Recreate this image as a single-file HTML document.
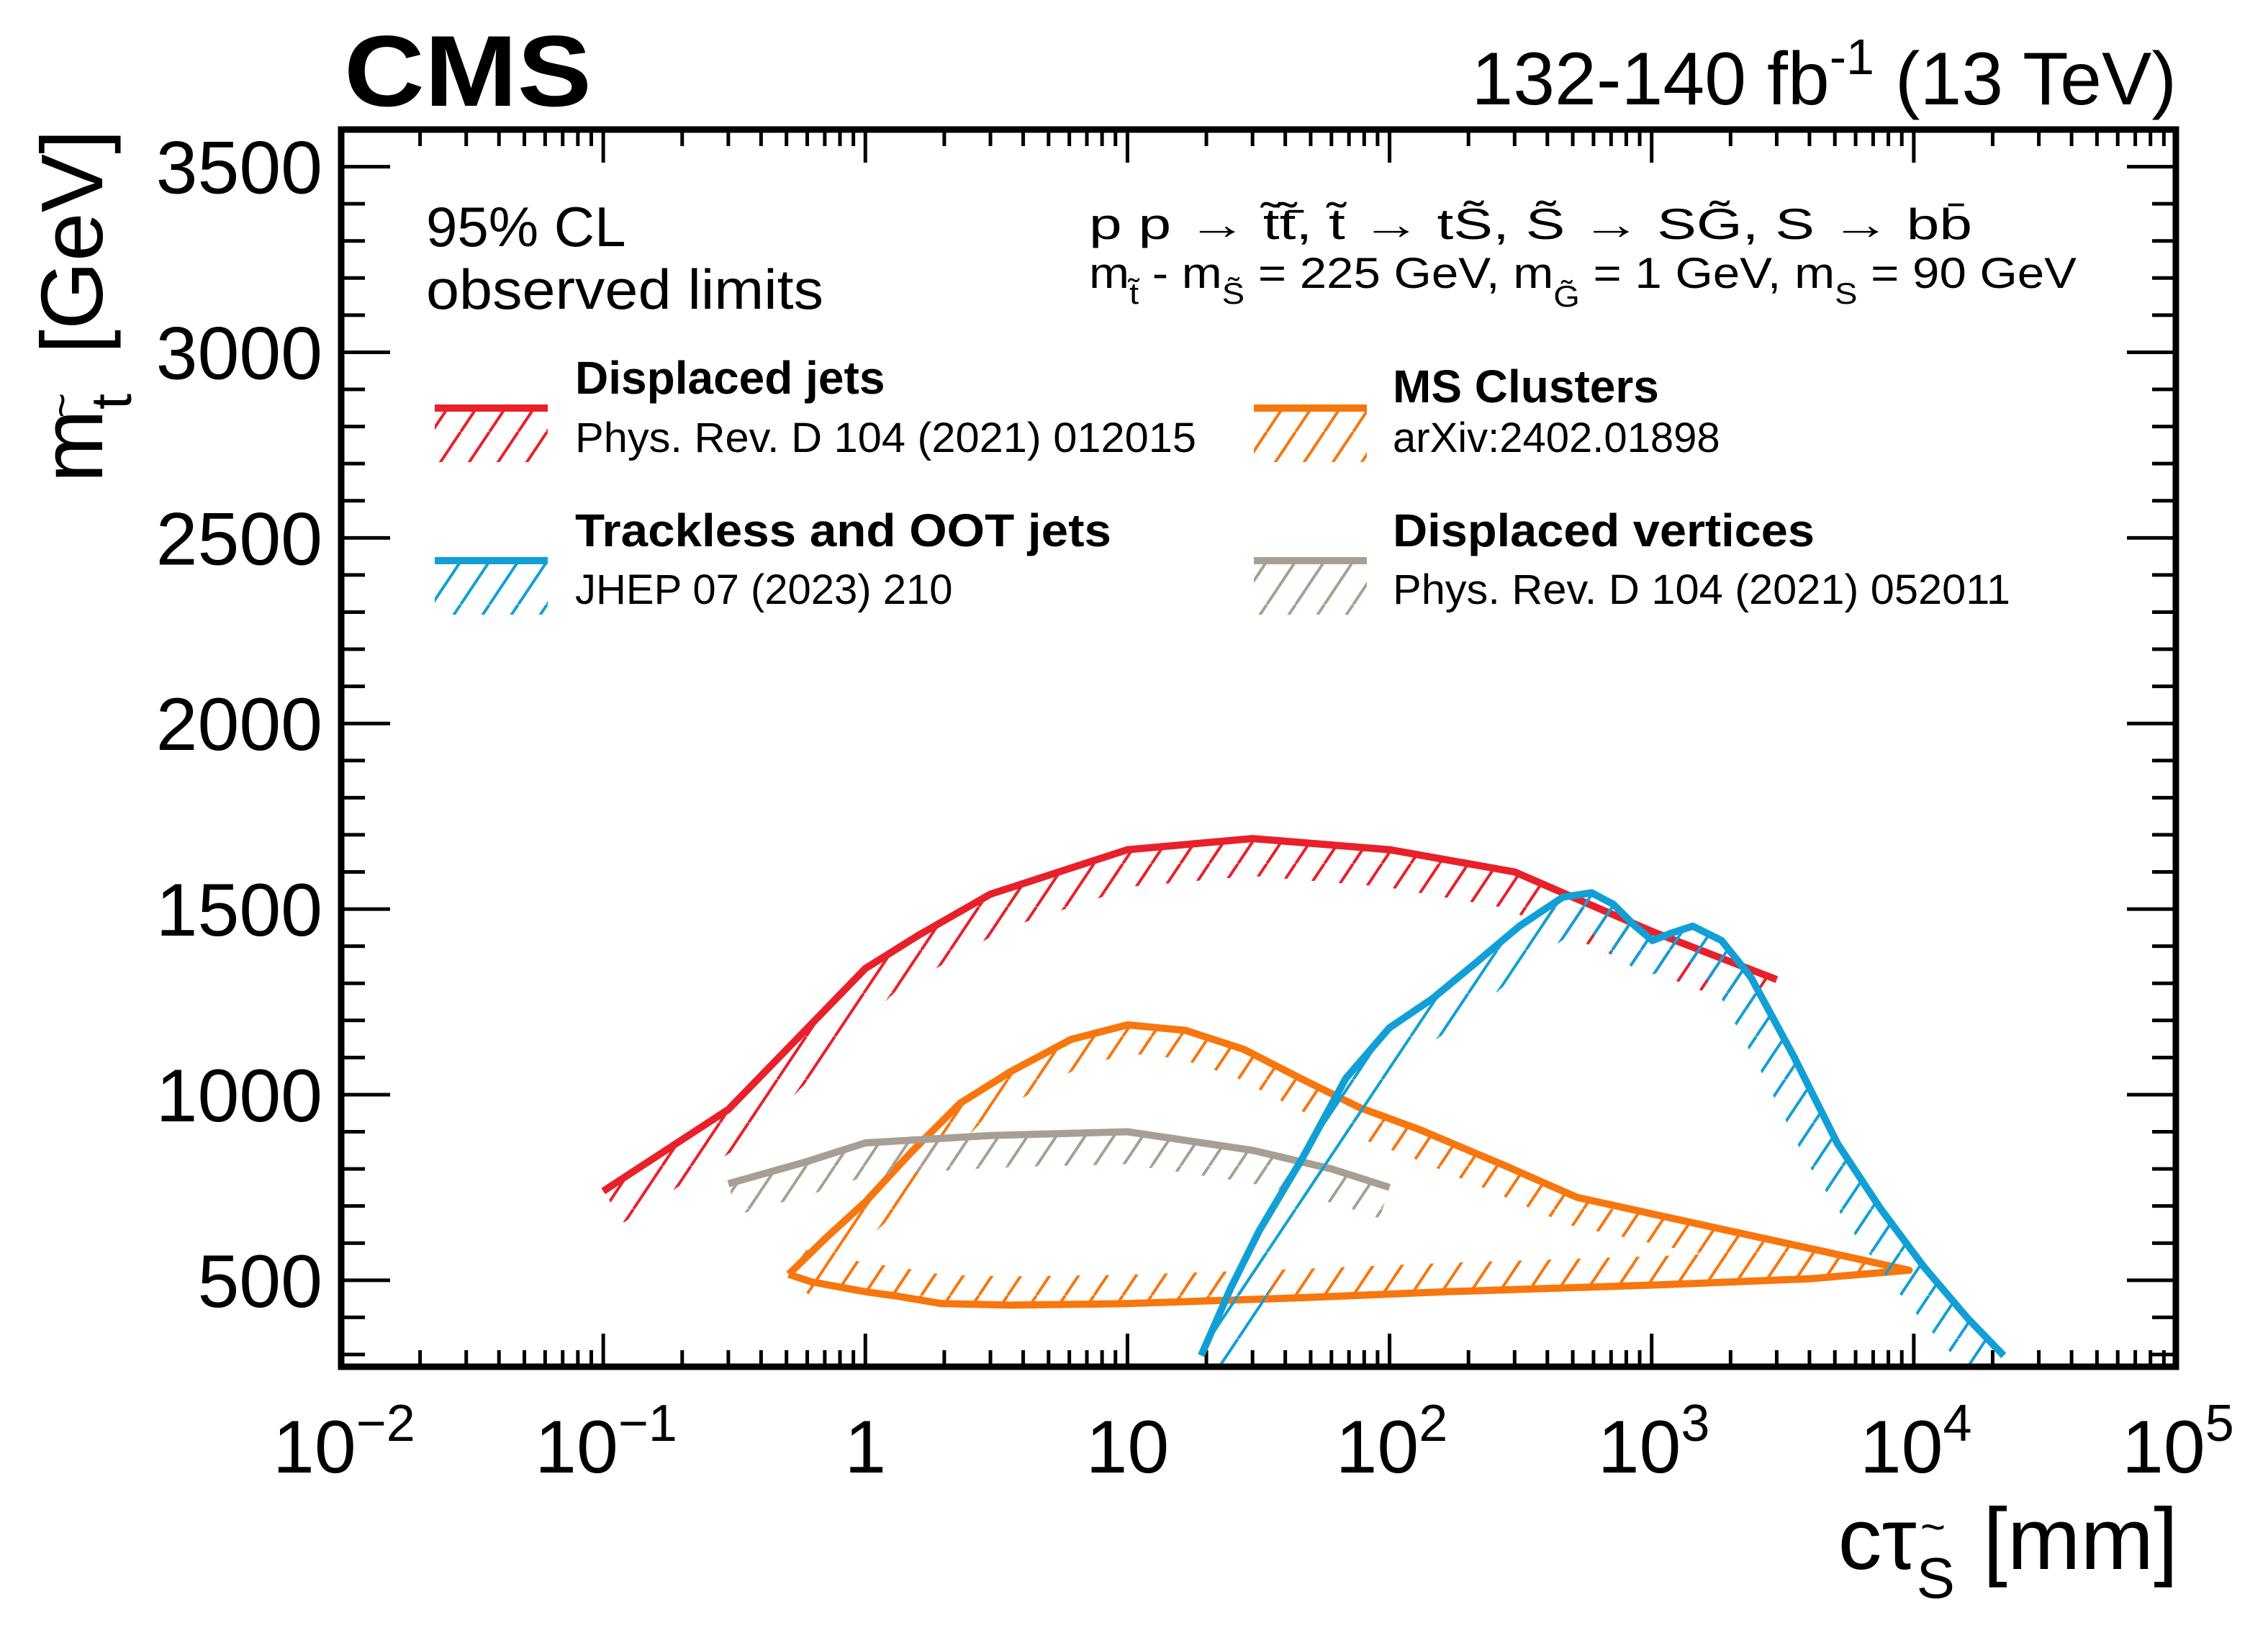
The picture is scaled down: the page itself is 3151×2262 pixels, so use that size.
<!DOCTYPE html>
<html><head><meta charset="utf-8"><style>
html,body{margin:0;padding:0;background:#fff}
svg{display:block}
text{font-family:"Liberation Sans",Arial,sans-serif;fill:#000}
</style></head><body>
<svg id="chart" width="3151" height="2262" viewBox="0 0 3151 2262" xmlns="http://www.w3.org/2000/svg">
<defs>
<pattern id="h-red" patternUnits="userSpaceOnUse" width="40" height="60"><path d="M40,0L0,60M80,0L40,60M0,0L-40,60" stroke="#e8202a" stroke-width="4"/></pattern>
<pattern id="h-blue" patternUnits="userSpaceOnUse" width="40" height="60"><path d="M40,0L0,60M80,0L40,60M0,0L-40,60" stroke="#129fd6" stroke-width="4"/></pattern>
<pattern id="h-orange" patternUnits="userSpaceOnUse" width="40" height="60"><path d="M40,0L0,60M80,0L40,60M0,0L-40,60" stroke="#f8760e" stroke-width="4"/></pattern>
<pattern id="h-gray" patternUnits="userSpaceOnUse" width="40" height="60"><path d="M40,0L0,60M80,0L40,60M0,0L-40,60" stroke="#a89f94" stroke-width="4"/></pattern>
<clipPath id="plotclip"><rect x="474" y="180" width="2549" height="1719"/></clipPath>
</defs>
<g id="ticks"></g>
<g id="series" clip-path="url(#plotclip)"></g>
<rect x="474" y="180" width="2549" height="1719" fill="none" stroke="#000" stroke-width="9"/>
<g id="yticklabels"></g>
<g id="xticklabels"></g>

<text x="478" y="147" font-size="140" font-weight="bold" textLength="344" lengthAdjust="spacingAndGlyphs">CMS</text>
<text x="3024" y="145" font-size="104" text-anchor="end">132-140 fb<tspan font-size="70" dy="-42">-1</tspan><tspan dy="42"> (13 TeV)</tspan></text>

<text x="3026" y="2180" font-size="122" text-anchor="end">cτ<tspan font-size="80" dy="40">S</tspan><tspan font-size="60" dx="-48" dy="-78">~</tspan><tspan dy="38" dx="18"> [mm]</tspan></text>
<text transform="translate(142,180) rotate(-90)" x="0" y="0" font-size="122" text-anchor="end">m<tspan font-size="80" dy="40">t</tspan><tspan font-size="60" dx="-34" dy="-76">~</tspan><tspan dy="36" dx="20"> [GeV]</tspan></text>

<text x="592" y="342" font-size="78">95% CL</text>
<text x="592" y="429" font-size="78" textLength="552" lengthAdjust="spacingAndGlyphs">observed limits</text>

<text x="1513" y="332" font-size="60" textLength="1227" lengthAdjust="spacingAndGlyphs">p p  →  t̃t̃̄,  t̃  →  tS̃,  S̃  →  SG̃, S  →  bb̄</text>
<text x="1513" y="400" font-size="60" textLength="1372" lengthAdjust="spacingAndGlyphs">m<tspan font-size="42" dy="22">t̃</tspan><tspan dy="-22"> - m</tspan><tspan font-size="42" dy="22">S̃</tspan><tspan dy="-22"> = 225 GeV,   m</tspan><tspan font-size="42" dy="26">G̃</tspan><tspan dy="-26"> = 1 GeV,   m</tspan><tspan font-size="42" dy="22">S</tspan><tspan dy="-22"> = 90 GeV</tspan></text>

<g>
 <g>
  <rect x="604" y="572" width="157" height="70" fill="url(#h-red)"/>
  <line x1="604" y1="567" x2="761" y2="567" stroke="#e8202a" stroke-width="10"/>
  <text x="799" y="547" font-size="64" font-weight="bold">Displaced jets</text>
  <text x="799" y="628" font-size="58" textLength="863" lengthAdjust="spacingAndGlyphs">Phys. Rev. D 104 (2021) 012015</text>
 </g>
 <g>
  <rect x="1742" y="572" width="157" height="70" fill="url(#h-orange)"/>
  <line x1="1742" y1="567" x2="1899" y2="567" stroke="#f8760e" stroke-width="10"/>
  <text x="1935" y="559" font-size="64" font-weight="bold">MS Clusters</text>
  <text x="1935" y="628" font-size="58">arXiv:2402.01898</text>
 </g>
 <g>
  <rect x="604" y="784" width="157" height="70" fill="url(#h-blue)"/>
  <line x1="604" y1="779" x2="761" y2="779" stroke="#129fd6" stroke-width="10"/>
  <text x="799" y="759" font-size="64" font-weight="bold" textLength="745" lengthAdjust="spacingAndGlyphs">Trackless and OOT jets</text>
  <text x="799" y="839" font-size="58">JHEP 07 (2023) 210</text>
 </g>
 <g>
  <rect x="1742" y="784" width="157" height="70" fill="url(#h-gray)"/>
  <line x1="1742" y1="779" x2="1899" y2="779" stroke="#a89f94" stroke-width="10"/>
  <text x="1935" y="759" font-size="64" font-weight="bold" textLength="586" lengthAdjust="spacingAndGlyphs">Displaced vertices</text>
  <text x="1935" y="839" font-size="58" textLength="858" lengthAdjust="spacingAndGlyphs">Phys. Rev. D 104 (2021) 052011</text>
 </g>
</g>
</svg>
<script>
const redCtau = [0.1, 0.3, 1, 1.6, 3, 10, 30, 100, 300, 1000, 3000];
const redMass = [740, 960, 1340, 1430, 1540, 1660, 1690, 1660, 1600, 1440, 1310];
const grayCtau = [0.3, 0.6, 1, 3, 10, 30, 60, 100];
const grayMass = [760, 820, 870, 890, 900, 850, 800, 750];
const blueCtau = [19.1, 24.7, 31.8, 46.5, 68.1, 99.8, 146, 214, 313, 458, 590, 714, 865, 1007, 1186, 1435, 1849, 2388, 3491, 5117, 7482, 10960, 16030, 22030];
const blueMass = [297, 477, 633, 829, 1044, 1180, 1259, 1356, 1454, 1532, 1544, 1513, 1454, 1415, 1435, 1454, 1415, 1317, 1102, 868, 692, 535, 398, 297];
const orangeCtau = [0.51, 0.705, 1.0, 1.51, 2.3, 3.6, 6.1, 10, 16.7, 27.8, 46, 77, 129, 275, 520, 1110, 4000, 9600, 4000, 1110, 165, 46, 10, 3.6, 1.95, 1.33, 1.0, 0.62, 0.51];
const orangeMass = [516, 613, 711, 848, 977, 1063, 1149, 1188, 1173, 1122, 1043, 965, 907, 809, 723, 672, 586, 527, 504, 488, 469, 453, 437, 433, 437, 457, 469, 496, 516];
const xTickExps = [-2, -1, 0, 1, 2, 3, 4, 5];
const xTickLabels = ["10|−2", "10|−1", "1", "10", "10|2", "10|3", "10|4", "10|5"];
const yTickValues = [500, 1000, 1500, 2000, 2500, 3000, 3500];

const X0 = 474, X1 = 3023, Y0 = 1899, Y1 = 180;
const XMIN = -2, XMAX = 5, YMIN = 267, YMAX = 3600;
const NS = "http://www.w3.org/2000/svg";
function xs(v) { return X0 + (Math.log10(v) - XMIN) / (XMAX - XMIN) * (X1 - X0); }
function ys(v) { return Y0 - (v - YMIN) / (YMAX - YMIN) * (Y0 - Y1); }
function mk(tag, attrs, parent) { const e = document.createElementNS(NS, tag); for (const k in attrs) e.setAttribute(k, attrs[k]); parent.appendChild(e); return e; }

const ticks = document.getElementById('ticks');
for (let e = XMIN; e <= XMAX; e++) {
  for (let m = 1; m <= 9; m++) {
    if (e === XMAX && m > 1) break;
    const x = xs(m * Math.pow(10, e));
    const L = m === 1 ? 46 : 23;
    const t1 = mk('line', { x1: x, y1: Y0, x2: x, y2: Y0 - L, stroke: '#000', 'stroke-width': 5 }, ticks);
    
    
    const t2 = mk('line', { x1: x, y1: Y1, x2: x, y2: Y1 + L, stroke: '#000', 'stroke-width': 5 }, ticks);
    
    
  }
}
for (let v = 300; v <= YMAX; v += 100) {
  const y = ys(v);
  const L = v % 500 === 0 ? 68 : 33;
  const t1 = mk('line', { x1: X0, y1: y, x2: X0 + L, y2: y, stroke: '#000', 'stroke-width': 5 }, ticks);
  
  
  const t2 = mk('line', { x1: X1, y1: y, x2: X1 - L, y2: y, stroke: '#000', 'stroke-width': 5 }, ticks);
  
  
}
const ytl = document.getElementById('yticklabels');
yTickValues.forEach(v => {
  const t = mk('text', { x: 448, y: ys(v) + 37, 'font-size': 104, 'text-anchor': 'end' }, ytl);
  t.textContent = String(v);
  
  
});
const xtl = document.getElementById('xticklabels');
xTickExps.forEach((e, i) => {
  const parts = xTickLabels[i].split('|');
  const x = xs(Math.pow(10, e));
  const t = mk('text', { x: x, y: 2046, 'font-size': 104, 'text-anchor': parts.length > 1 ? 'start' : 'middle' }, xtl);
  
  
  if (parts.length > 1) {
    t.setAttribute('x', x - (parts[1].length > 1 ? 95 : 75));
    t.appendChild(document.createTextNode(parts[0]));
    const s = mk('tspan', { 'font-size': 72, dy: -44 }, t);
    s.textContent = parts[1];
  } else {
    t.textContent = parts[0];
  }
});

const series = document.getElementById('series');
function drawBand(ctau, mass, color, hatch, name, d) {
  const pts = ctau.map((c, i) => [xs(c), ys(mass[i])]);
  const off = pts.map((p, i) => {
    const a = pts[Math.max(0, i - 1)], b = pts[Math.min(pts.length - 1, i + 1)];
    let dx = b[0] - a[0], dy = b[1] - a[1];
    const len = Math.hypot(dx, dy) || 1;
    return [p[0] + (-dy / len) * d, p[1] + (dx / len) * d];
  });
  const poly = pts.concat(off.slice().reverse()).map(p => p[0].toFixed(1) + ',' + p[1].toFixed(1)).join(' ');
  const h = mk('polygon', { points: poly, fill: 'url(#' + hatch + ')', stroke: 'none' }, series);
  
  
  const l = mk('polyline', { points: pts.map(p => p[0].toFixed(1) + ',' + p[1].toFixed(1)).join(' '), fill: 'none', stroke: color, 'stroke-width': 10, 'stroke-linejoin': 'round' }, series);
  
  
}
drawBand(redCtau, redMass, '#e8202a', 'h-red', 'displaced-jets', 52);
drawBand(orangeCtau, orangeMass, '#f8760e', 'h-orange', 'ms-clusters', 40);
drawBand(grayCtau, grayMass, '#a89f94', 'h-gray', 'displaced-vertices', 45);
drawBand(blueCtau, blueMass, '#129fd6', 'h-blue', 'trackless-oot-jets', 50);
</script>
</body></html>
